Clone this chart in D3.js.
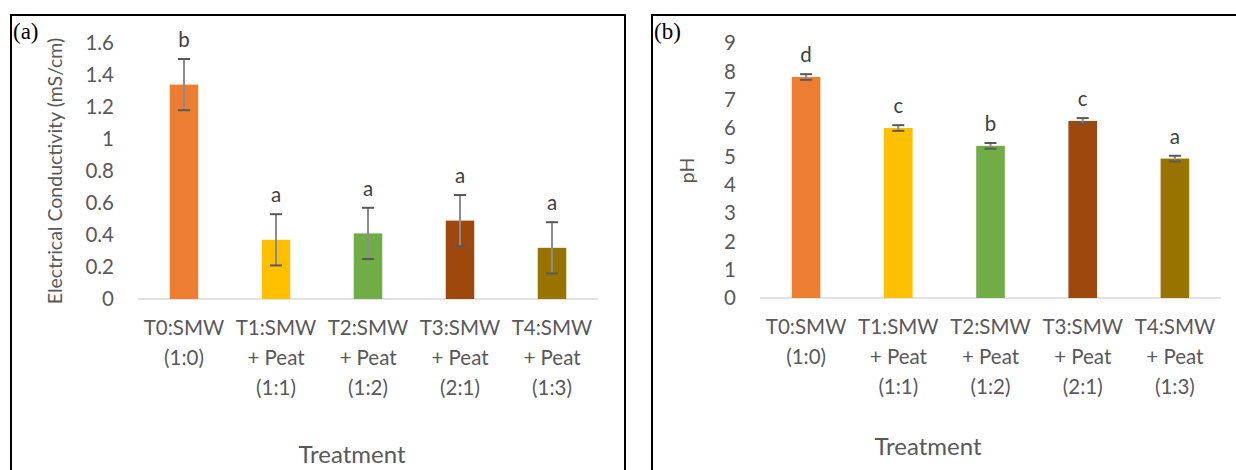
<!DOCTYPE html>
<html>
<head>
<meta charset="utf-8">
<script src="https://cdn.jsdelivr.net/npm/d3@7"></script>
<style>
  body { margin: 0; background: #fff; }
  svg text { font-family: Lato, "Open Sans", sans-serif; fill: #595959; }
</style>
</head>
<body>
<svg width="1236" height="470"></svg>
<script>
const categories = [
    ["T0:SMW", "(1:0)"],
    ["T1:SMW", "+ Peat", "(1:1)"],
    ["T2:SMW", "+ Peat", "(1:2)"],
    ["T3:SMW", "+ Peat", "(2:1)"],
    ["T4:SMW", "+ Peat", "(1:3)"]
];
const colors = ["#ed7d31", "#ffc000", "#70ad47", "#9e480e", "#997300"];

const ecValues = [1.34, 0.37, 0.41, 0.49, 0.32];
const ecErrors = [0.16, 0.16, 0.16, 0.16, 0.16];
const ecLetters = ["b", "a", "a", "a", "a"];
const ecTicks = [0, 0.2, 0.4, 0.6, 0.8, 1, 1.2, 1.4, 1.6];

const phValues = [7.8, 6.0, 5.37, 6.25, 4.92];
const phErrors = [0.1, 0.1, 0.1, 0.1, 0.1];
const phLetters = ["d", "c", "b", "c", "a"];
const phTicks = [0, 1, 2, 3, 4, 5, 6, 7, 8, 9];

const svg = d3.select("svg");

function drawPanel (opt) {
    const g = svg.append("g");

    // frame
    g.append("path")
        .attr("d", "M" + opt.frame[0] + ",480V" + opt.frame[1] + "H" + opt.frame[2] + "V480")
        .attr("fill", "none")
        .attr("stroke", "#000")
        .attr("stroke-width", 2);

    g.append("text")
        .attr("x", opt.frame[0] + 2)
        .attr("y", opt.frame[1] + 24)
        .style("font-family", "'Liberation Serif', serif")
        .style("font-size", "23px")
        .style("fill", "#000")
        .text(opt.tag);

    let x = d3.scaleBand()
        .domain(d3.range(categories.length))
        .range([opt.x0, opt.x1])
        .paddingInner(0.69)
        .paddingOuter(0.345);

    let y = d3.scaleLinear()
        .domain([0, opt.max])
        .range([opt.y0, opt.y1]);

    // y tick labels
    g.selectAll(".ytick")
        .data(opt.ticks)
        .enter().append("text")
        .attr("x", opt.x0 - 24)
        .attr("y", function (d) { return y(d); })
        .attr("dy", "0.35em")
        .attr("text-anchor", "end")
        .style("font-size", "20.5px")
        .text(function (d) { return d; });

    // baseline
    g.append("line")
        .attr("x1", opt.x0).attr("x2", opt.x1)
        .attr("y1", y(0)).attr("y2", y(0))
        .attr("stroke", "#d9d9d9")
        .attr("stroke-width", 1.5);

    g.selectAll(".bar")
        .data(opt.values)
        .enter().append("rect")
        .attr("x", function (d, i) { return x(i); })
        .attr("y", function (d) { return y(d); })
        .attr("width", x.bandwidth())
        .attr("height", function (d) { return y(0) - y(d); })
        .attr("fill", function (d, i) { return colors[i]; });

    // error bars
    let err = g.selectAll(".err")
        .data(opt.values)
        .enter().append("g");

    err.append("line")
        .attr("x1", function (d, i) { return x(i) + x.bandwidth() / 2; })
        .attr("x2", function (d, i) { return x(i) + x.bandwidth() / 2; })
        .attr("y1", function (d, i) { return y(d - opt.errors[i]); })
        .attr("y2", function (d, i) { return y(d + opt.errors[i]); })
        .attr("stroke", "#8c8c8c")
        .attr("stroke-width", 2);

    [-1, 1].forEach(function (s) {
        err.append("line")
            .attr("x1", function (d, i) { return x(i) + x.bandwidth() / 2 - 6; })
            .attr("x2", function (d, i) { return x(i) + x.bandwidth() / 2 + 6; })
            .attr("y1", function (d, i) { return y(d + s * opt.errors[i]); })
            .attr("y2", function (d, i) { return y(d + s * opt.errors[i]); })
            .attr("stroke", "#595959")
            .attr("stroke-width", 2);
    });

    // significance letters
    g.selectAll(".letter")
        .data(opt.values)
        .enter().append("text")
        .attr("x", function (d, i) { return x(i) + x.bandwidth() / 2; })
        .attr("y", function (d, i) { return y(d + opt.errors[i]) - 12; })
        .attr("text-anchor", "middle")
        .style("font-size", "20.5px")
        .style("fill", "#404040")
        .text(function (d, i) { return opt.letters[i]; });

    // category labels
    let cat = g.selectAll(".cat")
        .data(categories)
        .enter().append("text")
        .attr("text-anchor", "middle")
        .style("font-size", "20.5px")
        .attr("transform", function (d, i) { return "translate(" + (x(i) + x.bandwidth() / 2) + "," + (y(0) + 36) + ")"; });

    cat.selectAll("tspan")
        .data(function (d) { return d; })
        .enter().append("tspan")
        .attr("x", 0)
        .attr("y", function (d, j) { return j * 30; })
        .text(function (d) { return d; });

    g.append("text")
        .attr("x", opt.xTitleX)
        .attr("y", opt.xTitleY)
        .attr("text-anchor", "middle")
        .style("font-size", "24px")
        .text("Treatment");

    g.append("text")
        .attr("transform", "translate(" + opt.yTitleX + "," + ((opt.y0 + opt.y1) / 2) + ") rotate(-90)")
        .attr("text-anchor", "middle")
        .style("font-size", "19.5px")
        .text(opt.yTitle);
}

drawPanel({
    frame: [11, 15, 625], tag: "(a)",
    x0: 138, x1: 598, y0: 299, y1: 43, max: 1.6,
    ticks: ecTicks, values: ecValues, errors: ecErrors, letters: ecLetters,
    yTitle: "Electrical Conductivity  (mS/cm)", yTitleX: 62, xTitleX: 352, xTitleY: 463
});

drawPanel({
    frame: [652, 15, 1250], tag: "(b)",
    x0: 760, x1: 1221, y0: 298, y1: 43, max: 9,
    ticks: phTicks, values: phValues, errors: phErrors, letters: phLetters,
    yTitle: "pH", yTitleX: 694, xTitleX: 928, xTitleY: 455
});
</script>
</body>
</html>
